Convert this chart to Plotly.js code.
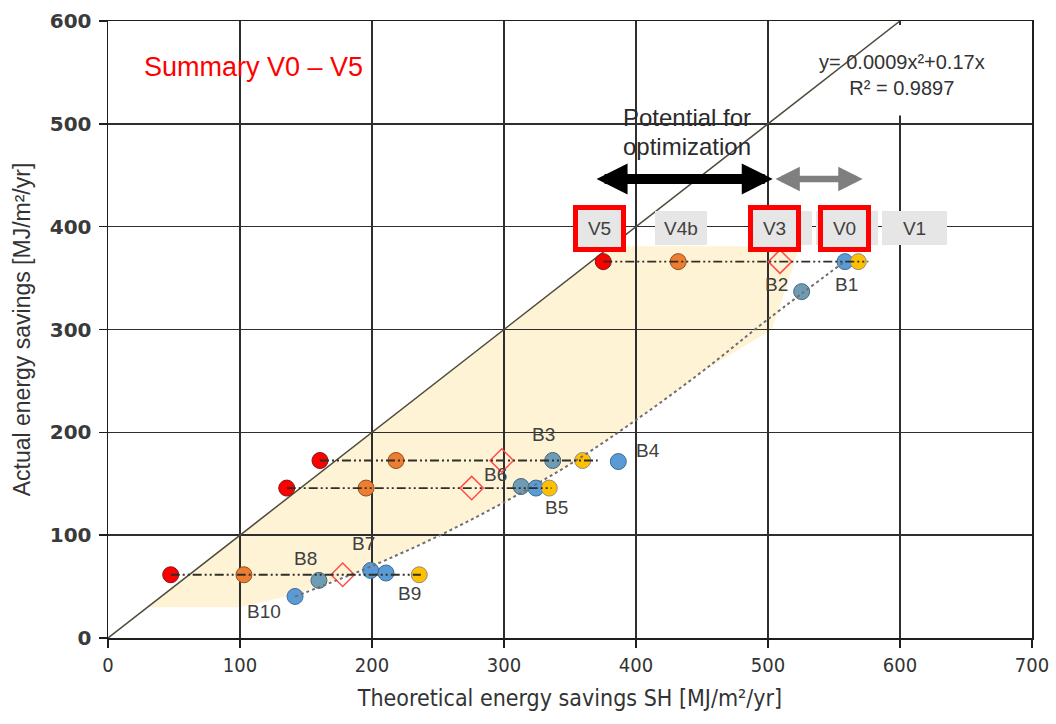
<!DOCTYPE html>
<html>
<head>
<meta charset="utf-8">
<script src="https://cdn.plot.ly/plotly-3.0.1.min.js"></script>
<style>html,body{margin:0;padding:0;background:#fff;}#chart{width:1056px;height:724px;}</style>
</head>
<body>
<div id="chart"></div>
<script>
// ---- data ----
const rowY     = [366, 172.6, 145.8, 61.5];          // rows of variant scenarios
const v5X      = [375.2, 160.6, 135.4, 47.5];        // V5 (red)
const v4bX     = [432.0, 218.2, 195.5, 103.0];       // V4b (orange)
const v3X      = [509.1, 298.3, 275.5, 177.8];       // V3 (open diamond)
const v1X      = [568.4, 359.6, 334.3, 235.8];       // V1 (yellow)
const rowEndX  = [576, 371, 336, 237];               // end of the dash-dot row lines

const bldgA    = ['B2', 'B3', 'B6', 'B8'];           // grey-blue buildings
const bldgAX   = [525.5, 336.9, 312.9, 159.8];
const bldgAY   = [336.8, 172.6, 147.3, 56.0];
const bldgB    = ['B1', 'B4', 'B5', 'B7', 'B9', 'B10']; // blue buildings
const bldgBX   = [558.3, 386.6, 324.2, 199.0, 210.6, 141.7];
const bldgBY   = [366.0, 171.6, 145.8, 65.7, 63.2, 40.4];

const trendX   = [141.7, 175, 200, 250, 300, 350, 400, 450, 500, 558];
const trendY   = [40.4, 57, 70, 99, 132, 169, 212, 259, 310, 366];
const diagX    = [0, 600];
const diagY    = [0, 600];
const shadeX   = [30, 381, 524, 503, 450, 400, 350, 300, 250, 200, 141, 100];
const shadeY   = [30, 381, 381, 300, 259, 212, 169, 132, 99, 70, 42, 30];

const xTicks   = [0, 100, 200, 300, 400, 500, 600, 700];
const yTicks   = [0, 100, 200, 300, 400, 500, 600];

// ---- traces ----
const ring = (c) => ({width: 1, color: c});
function rowLines() {
  const x = [], y = [];
  rowY.forEach((yy, i) => { x.push(v5X[i], rowEndX[i], null); y.push(yy, yy, null); });
  return {x, y};
}
const rl = rowLines();
const MS = 16;

const traces = [
  {x: diagX, y: diagY, mode: 'lines', line: {color: '#4f4b3c', width: 1.5}, hoverinfo: 'skip'},
  {x: v5X, y: rowY, mode: 'markers', name: 'V5', marker: {symbol: 'circle', size: MS, color: '#ff0000', line: ring('#7a1a1a')}},
  {x: v4bX, y: rowY, mode: 'markers', name: 'V4b', marker: {symbol: 'circle', size: MS, color: '#ed7d31', line: ring('#8f5026')}},
  {x: v3X, y: rowY, mode: 'markers', name: 'V3', marker: {symbol: 'diamond-open', size: 18, color: '#ff4b4b', line: {width: 1.5, color: '#ff4b4b'}}},
  {x: bldgAX, y: bldgAY, mode: 'markers', name: 'B-a', text: bldgA, marker: {symbol: 'circle', size: MS, color: '#6f9cb5', line: ring('#46667a')}},
  {x: bldgBX, y: bldgBY, mode: 'markers', name: 'B-b', text: bldgB, marker: {symbol: 'circle', size: MS, color: '#5b9bd5', line: ring('#3d6c96')}},
  {x: v1X, y: rowY, mode: 'markers', name: 'V1', marker: {symbol: 'circle', size: MS, color: '#ffc000', line: ring('#8c8c8c')}},
  {x: trendX, y: trendY, mode: 'lines', line: {color: '#6f6f6f', width: 2, dash: '3px,3px', shape: 'spline'}, hoverinfo: 'skip'},
  {x: rl.x, y: rl.y, mode: 'lines', line: {color: '#2f2f28', width: 1.8, dash: '9px,3px,2px,3px,2px,3px'}, hoverinfo: 'skip'}
];

// ---- shapes ----
let shadePath = 'M ' + shadeX.map((v, i) => v + ',' + shadeY[i]).join(' L ') + ' Z';
const shapes = [
  {type: 'path', path: shadePath, xref: 'x', yref: 'y', layer: 'below', fillcolor: '#fff3d6', line: {width: 0}},
  {type: 'rect', xref: 'x', yref: 'y', x0: 528, x1: 676, y0: 508, y1: 596, layer: 'between', fillcolor: '#ffffff', line: {width: 0}}
];

// ---- annotations ----
const lblFont = {family: 'Liberation Sans, Arial, sans-serif', size: 19, color: '#404040'};
const bLabels = [
  ['B1', 559.8, 343.3], ['B2', 506.8, 343.3], ['B3', 329.8, 197.6], ['B4', 409.3, 182.3],
  ['B5', 339.9, 127.3], ['B6', 293.7, 158.7], ['B7', 193.4, 91.6], ['B8', 149.8, 77.7],
  ['B9', 228.3, 43.0], ['B10', 118.2, 25.9]
];
const annotations = bLabels.map(([t, x, y]) => ({text: t, x, y, xref: 'x', yref: 'y', showarrow: false, font: lblFont}));

const vFont = {family: 'Liberation Sans, Arial, sans-serif', size: 19, color: '#404040'};
const grayBg = '#e6e6e6';
// grey label boxes (drawn first)
[['', 509.1, 64], ['', 560.2, 62], ['V4b', 434.1, 52], ['V1', 611.0, 65]].forEach(([t, x, w]) => {
  annotations.push({text: t || ' ', x, y: 398.3, xref: 'x', yref: 'y', showarrow: false, font: vFont,
    bgcolor: grayBg, width: w, height: 34, borderpad: 0, borderwidth: 0});
});
// red-framed boxes
[['V5', 372.3], ['V3', 504.9], ['V0', 558.3]].forEach(([t, x]) => {
  annotations.push({text: t, x, y: 398.3, xref: 'x', yref: 'y', showarrow: false, font: vFont,
    bgcolor: grayBg, bordercolor: '#ff0000', borderwidth: 5, borderpad: 0, width: 43, height: 37});
});

annotations.push(
  {text: 'Summary V0 \u2013 V5', x: 25.5, y: 555.2, xref: 'x', yref: 'y', xanchor: 'left', showarrow: false,
   font: {family: 'Liberation Sans, Arial, sans-serif', size: 27, color: '#ff0000'}},
  {text: 'y= 0.0009x\u00b2+0.17x<br>R\u00b2 = 0.9897', x: 601.5, y: 547.4, xref: 'x', yref: 'y', showarrow: false,
   font: {family: 'Liberation Sans, Arial, sans-serif', size: 20, color: '#333333'}},
  {text: 'Potential for', x: 439, y: 506.6, xref: 'x', yref: 'y', showarrow: false,
   font: {family: 'Liberation Sans, Arial, sans-serif', size: 24, color: '#2b2b2b'}},
  {text: 'optimization', x: 439, y: 478.4, xref: 'x', yref: 'y', showarrow: false,
   font: {family: 'Liberation Sans, Arial, sans-serif', size: 24, color: '#2b2b2b'}},
  // double arrows
  {text: '', x: 503.6, y: 446.4, ax: 369, ay: 446.4, xref: 'x', yref: 'y', axref: 'x', ayref: 'y',
   showarrow: true, arrowside: 'end+start', arrowhead: 2, startarrowhead: 2, arrowsize: 0.62, startarrowsize: 0.62,
   arrowwidth: 10, arrowcolor: '#000000', standoff: 0, startstandoff: 0},
  {text: '', x: 571.7, y: 446.4, ax: 504.5, ay: 446.4, xref: 'x', yref: 'y', axref: 'x', ayref: 'y',
   showarrow: true, arrowside: 'end+start', arrowhead: 2, startarrowhead: 2, arrowsize: 0.75, startarrowsize: 0.75,
   arrowwidth: 6.5, arrowcolor: '#7f7f7f', standoff: 0, startstandoff: 0}
);

const layout = {
  width: 1056, height: 724,
  margin: {l: 108, r: 24, t: 21, b: 86},
  paper_bgcolor: '#ffffff', plot_bgcolor: '#ffffff',
  showlegend: false,
  xaxis: {
    range: [0, 700], tickvals: xTicks, ticktext: xTicks.map(String),
    showgrid: true, gridcolor: '#2e2e2e', gridwidth: 1.5, zeroline: false,
    showline: true, linecolor: '#1e1e1e', linewidth: 1.5, mirror: true,
    ticks: 'outside', ticklen: 8, tickwidth: 1.5, tickcolor: '#1e1e1e',
    tickfont: {family: 'Liberation Sans Narrow, Arial Narrow, DejaVu Sans Condensed, Liberation Sans, sans-serif', size: 20, color: '#333333'},
    title: {text: 'Theoretical energy savings SH [MJ/m\u00b2/yr]', standoff: 14,
      font: {family: 'Liberation Sans Narrow, Arial Narrow, DejaVu Sans Condensed, Liberation Sans, sans-serif', size: 23, color: '#333333'}}
  },
  yaxis: {
    range: [0, 600], tickvals: yTicks, ticktext: yTicks.map(String),
    showgrid: true, gridcolor: '#2e2e2e', gridwidth: 1.5, zeroline: false,
    showline: true, linecolor: '#1e1e1e', linewidth: 1.5, mirror: true,
    ticks: 'outside', ticklen: 8, tickwidth: 1.5, tickcolor: '#1e1e1e', ticklabelstandoff: 3,
    tickfont: {family: 'DejaVu Sans, sans-serif', size: 20, weight: 'bold', color: '#3a3a3a'},
    title: {text: 'Actual energy savings [MJ/m\u00b2/yr]', standoff: 12,
      font: {family: 'Liberation Sans, Arial, sans-serif', size: 23, color: '#333333'}}
  },
  shapes, annotations
};

Plotly.newPlot('chart', traces, layout, {displayModeBar: false, staticPlot: true});
</script>
</body>
</html>
